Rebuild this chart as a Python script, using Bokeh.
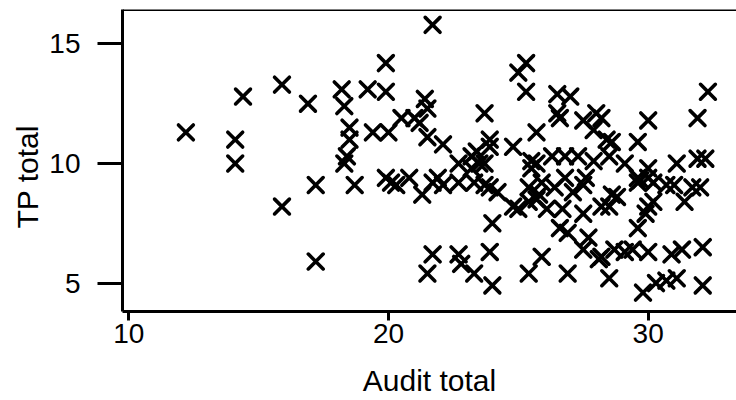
from bokeh.plotting import figure
from bokeh.models import FixedTicker, Span, Title
from bokeh.embed import file_html
from bokeh.resources import INLINE

# Audit total (x) and TP total (y)
audit_total = [
    12.2, 14.1, 14.1, 14.4, 15.9, 15.9, 16.9, 17.2, 17.2,
    18.2, 18.3, 18.5, 18.5, 18.4, 18.3, 18.7, 19.9, 19.2, 19.9, 19.4, 20.0, 19.9, 20.3, 20.1,
    20.5, 21.0, 21.2, 21.4, 21.5, 21.5, 22.1, 20.8, 21.3, 21.7, 21.9, 22.1, 21.7, 21.7, 21.5,
    22.7, 22.8, 23.3, 23.9, 24.0, 22.7, 23.2, 23.2, 23.4, 23.5, 23.7, 23.7, 23.9, 23.9,
    22.7, 23.3, 23.7, 23.9, 24.2, 24.0,
    24.8, 24.8, 25.0, 25.3, 25.3, 25.7, 25.5, 25.7, 25.5, 25.0, 25.4, 25.7, 26.1, 25.8,
    25.9, 25.4, 25.9, 25.4,
    26.5, 27.0, 26.5, 26.6, 27.5, 28.0, 28.2, 27.9, 26.3, 26.8, 27.3, 27.9, 26.4, 27.1,
    27.5, 26.8, 27.6, 26.7, 27.5, 26.6, 26.9, 27.7, 27.5, 28.1, 26.9,
    28.4, 28.6, 28.5, 29.1, 28.2, 28.5, 28.6, 28.8, 28.2, 28.7, 29.1, 29.4, 28.5,
    30.0, 29.6, 30.0, 29.6, 30.0, 29.7, 30.2, 29.6, 30.2, 29.9, 30.0, 29.6, 30.0, 29.8,
    30.3, 30.7,
    32.3, 31.9, 31.1, 31.9, 32.2, 30.7, 31.0, 31.4, 31.7, 32.0, 30.9, 31.3, 32.1, 31.1, 32.1,
]
tp_total = [
    11.3, 11.0, 10.0, 12.8, 13.3, 8.2, 12.5, 9.1, 5.9,
    13.1, 12.4, 11.5, 11.0, 10.3, 10.0, 9.1, 14.2, 13.1, 13.0, 11.3, 11.3, 9.4, 9.1, 9.2,
    11.9, 11.9, 11.7, 12.7, 12.3, 11.1, 10.8, 9.4, 8.7, 9.2, 9.4, 9.1, 15.8, 6.2, 5.4,
    6.2, 5.8, 5.4, 6.3, 4.9, 10.0, 10.3, 9.8, 10.5, 10.0, 10.0, 12.1, 11.0, 10.7,
    9.2, 9.2, 9.1, 9.0, 8.8, 7.5,
    10.7, 8.2, 13.8, 14.2, 13.0, 11.3, 10.1, 10.0, 9.8, 8.1, 8.4, 8.5, 8.1, 8.7,
    9.2, 9.0, 6.1, 5.4,
    12.9, 12.8, 12.1, 11.9, 11.8, 12.1, 11.9, 11.4, 10.3, 10.3, 10.3, 10.1, 9.0, 8.8,
    9.1, 9.4, 9.4, 8.1, 7.9, 7.3, 7.1, 6.9, 6.4, 6.0, 5.4,
    11.0, 10.9, 10.3, 10.0, 8.2, 8.2, 8.7, 8.6, 6.1, 6.4, 6.3, 6.4, 5.2,
    11.8, 10.9, 9.8, 9.4, 9.4, 9.3, 9.2, 9.2, 8.4, 7.9, 8.2, 7.3, 6.3, 4.6,
    5.0, 5.1,
    13.0, 11.9, 10.0, 10.2, 10.2, 9.1, 9.1, 8.4, 9.0, 9.0, 6.2, 6.4, 6.5, 5.2, 4.9,
]
x_ticks = [10, 20, 30]
y_ticks = [5, 10, 15]

FONT = "Liberation Sans"
Y_TOP = 16.44

p = figure(
    width=736, height=400,
    x_range=(9.76, 33.40), y_range=(3.81, Y_TOP),
    output_backend="svg", toolbar_location=None,
    min_border_left=122, min_border_top=9, min_border_right=0, min_border_bottom=89,
)
p.outline_line_color = None
p.grid.visible = False
p.background_fill_color = "white"
p.border_fill_color = "white"

p.scatter(audit_total, tp_total, marker="x", size=21, line_color="black",
          line_width=3.6, line_cap="round")

top = Span(location=Y_TOP, dimension="width", line_color="black", line_width=3)
p.add_layout(top)

xa = p.xaxis[0]
xa.ticker = FixedTicker(ticks=x_ticks)
xa.axis_label = "Audit total"
ya = p.yaxis[0]
ya.ticker = FixedTicker(ticks=y_ticks)

for ax in (xa, ya):
    ax.axis_line_color = "black"
    ax.axis_line_width = 3
    ax.major_tick_line_color = "black"
    ax.major_tick_line_width = 3
    ax.major_tick_in = 0
    ax.minor_tick_line_color = None
    ax.major_label_text_font = FONT
    ax.major_label_text_font_size = "28px"
    ax.major_label_text_color = "black"
    ax.axis_label_text_font = FONT
    ax.axis_label_text_font_size = "30px"
    ax.axis_label_text_font_style = "normal"
    ax.axis_label_text_color = "black"

xa.major_tick_out = 9
xa.major_label_standoff = 3
xa.axis_label_standoff = 18
ya.major_tick_out = 25
ya.major_label_standoff = 17

ytitle = Title(text="TP total", align="left", offset=83, standoff=5,
               text_font=FONT, text_font_size="30px", text_font_style="normal",
               text_color="black")
p.add_layout(ytitle, "left")

open("out.html", "w").write(file_html(p, INLINE))
